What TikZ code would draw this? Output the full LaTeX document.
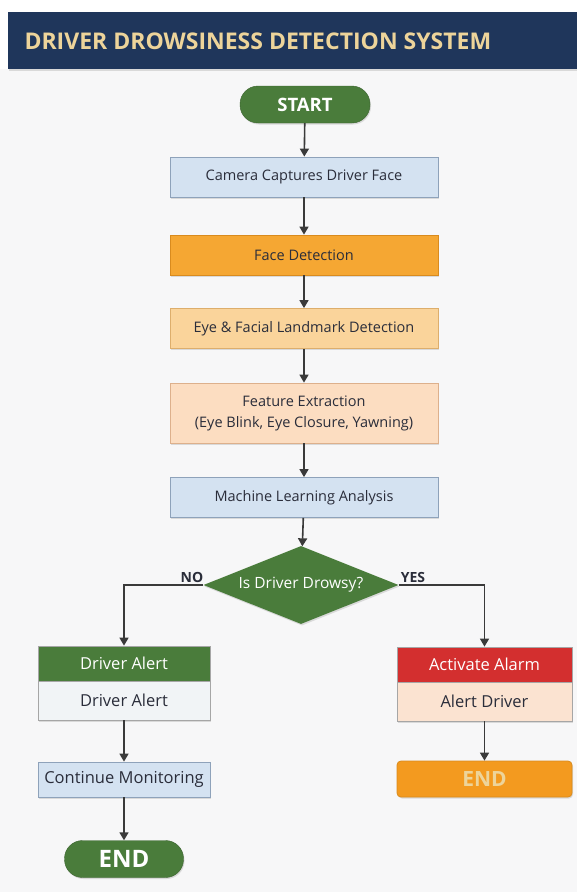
\documentclass[tikz,border=0pt]{standalone}
\usepackage{fontspec}
\setmainfont{Open Sans}
\usetikzlibrary{arrows.meta, shapes.geometric, shadows}
\definecolor{BannerNavy}{HTML}{1F365B}
\definecolor{BannerGold}{HTML}{EDD49A}
\definecolor{PageGray}{HTML}{F7F7F8}
\definecolor{LeafGreen}{HTML}{4A7C3B}
\definecolor{SkyFill}{HTML}{D4E2F1}
\definecolor{SkyLine}{HTML}{8EA2BA}
\definecolor{Amber}{HTML}{F5A733}
\definecolor{AmberLine}{HTML}{D98B1E}
\definecolor{Sand}{HTML}{FAD49B}
\definecolor{SandLine}{HTML}{DDAE6C}
\definecolor{Peach}{HTML}{FCDDC1}
\definecolor{PeachLine}{HTML}{DDB08C}
\definecolor{AlarmRed}{HTML}{D32F2F}
\definecolor{Mist}{HTML}{F1F4F6}
\definecolor{BlushFill}{HTML}{FBE3D1}
\definecolor{EndOrange}{HTML}{F39A1F}
\definecolor{InkGray}{HTML}{3A3A3A}
\definecolor{TextDark}{HTML}{2A2D3A}

\begin{document}
\begin{tikzpicture}[x=1pt, y=-1pt, font=\fontsize{14.5}{21}\selectfont,
	shade/.style={drop shadow={shadow xshift=1pt, shadow yshift=-1.5pt, opacity=0.25}},
	box/.style={rectangle, draw, line width=0.8pt, minimum width=268pt, minimum height=40pt, text=TextDark, shade},
	side/.style={box, font=\fontsize{16.5}{20}\selectfont},
	pill/.style={rectangle, rounded corners=18pt, fill=LeafGreen, draw=LeafGreen!80!black, text=white,
		minimum height=37pt, font=\fontsize{18.5}{20}\selectfont\bfseries, shade},
	decision/.style={diamond, aspect=2.5, inner sep=0pt, minimum width=195pt, minimum height=78pt,
		fill=LeafGreen, text=white, font=\fontsize{15.5}{18}\selectfont, shade},
	arr/.style={-{Triangle[length=8pt, width=9pt]}, line width=1.6pt, InkGray},
	lbl/.style={font=\fontsize{14}{16}\selectfont\bfseries, text=TextDark}]
	\useasboundingbox (0,0) rectangle (577,892);
	\fill[white] (0,0) rectangle (577,892);
	\fill[PageGray] (0,69) rectangle (577,892);
	\fill[BannerNavy, shade] (8,12) rectangle (577,69);
	\node[anchor=west, text=BannerGold, font=\fontsize{23}{26}\selectfont\bfseries] (title) at (21,41)
		{DRIVER DROWSINESS DETECTION SYSTEM};

	% main column
	\node[pill, minimum width=130pt] (start) at (305,104.5) {START};
	\node[box, fill=SkyFill, draw=SkyLine] (cam) at (304,177) {Camera Captures Driver Face};
	\node[box, fill=Amber, draw=AmberLine] (face) at (304,255) {Face Detection};
	\node[box, fill=Sand, draw=SandLine] (eye) at (304,328.5) {Eye \& Facial Landmark Detection};
	\node[box, fill=Peach, draw=PeachLine, minimum height=60pt, align=center] (feat) at (304,413)
		{Feature Extraction\\(Eye Blink, Eye Closure, Yawning)};
	\node[box, fill=SkyFill, draw=SkyLine] (ml) at (304,497.5) {Machine Learning Analysis};
	\node[decision] (dec) at (301,585) {Is Driver Drowsy?};
	\node[lbl] (noLbl) at (192,577) {NO};
	\node[lbl] (yesLbl) at (413,577) {YES};

	% no branch
	\node[side, fill=LeafGreen, draw=gray!70, text=white, minimum width=172pt, minimum height=35pt] (noTop) at (124,663.5) {Driver Alert};
	\node[side, fill=Mist, draw=gray!70, minimum width=172pt, minimum height=39pt] (noBody) at (124,700.5) {Driver Alert};
	\node[side, fill=SkyFill, draw=SkyLine, minimum width=172pt, minimum height=35pt] (mon) at (124,779.5) {Continue Monitoring};
	\node[pill, minimum width=119pt, font=\fontsize{24}{26}\selectfont\bfseries] (endL) at (124,859) {END};

	% yes branch
	\node[side, fill=AlarmRed, draw=gray!70, text=white, minimum width=175pt, minimum height=35pt] (yesTop) at (484.5,664.5) {Activate Alarm};
	\node[side, fill=BlushFill, draw=gray!70, minimum width=175pt, minimum height=39pt] (yesBody) at (484.5,701.5) {Alert Driver};
	\node[box, rounded corners=4pt, fill=EndOrange, draw=AmberLine, text=BannerGold, minimum width=175pt, minimum height=36pt,
		font=\fontsize{21}{24}\selectfont\bfseries] (endR) at (484.5,779) {END};

	\foreach \a/\b in {start/cam, cam/face, face/eye, eye/feat, feat/ml, ml/dec, noBody/mon, mon/endL, yesBody/endR}
		\draw[arr] (\a) -- (\b);
	\draw[arr] (dec.west) -| (noTop.north);
	\draw[arr] (dec.east) -| (yesTop.north);
\end{tikzpicture}
\end{document}
